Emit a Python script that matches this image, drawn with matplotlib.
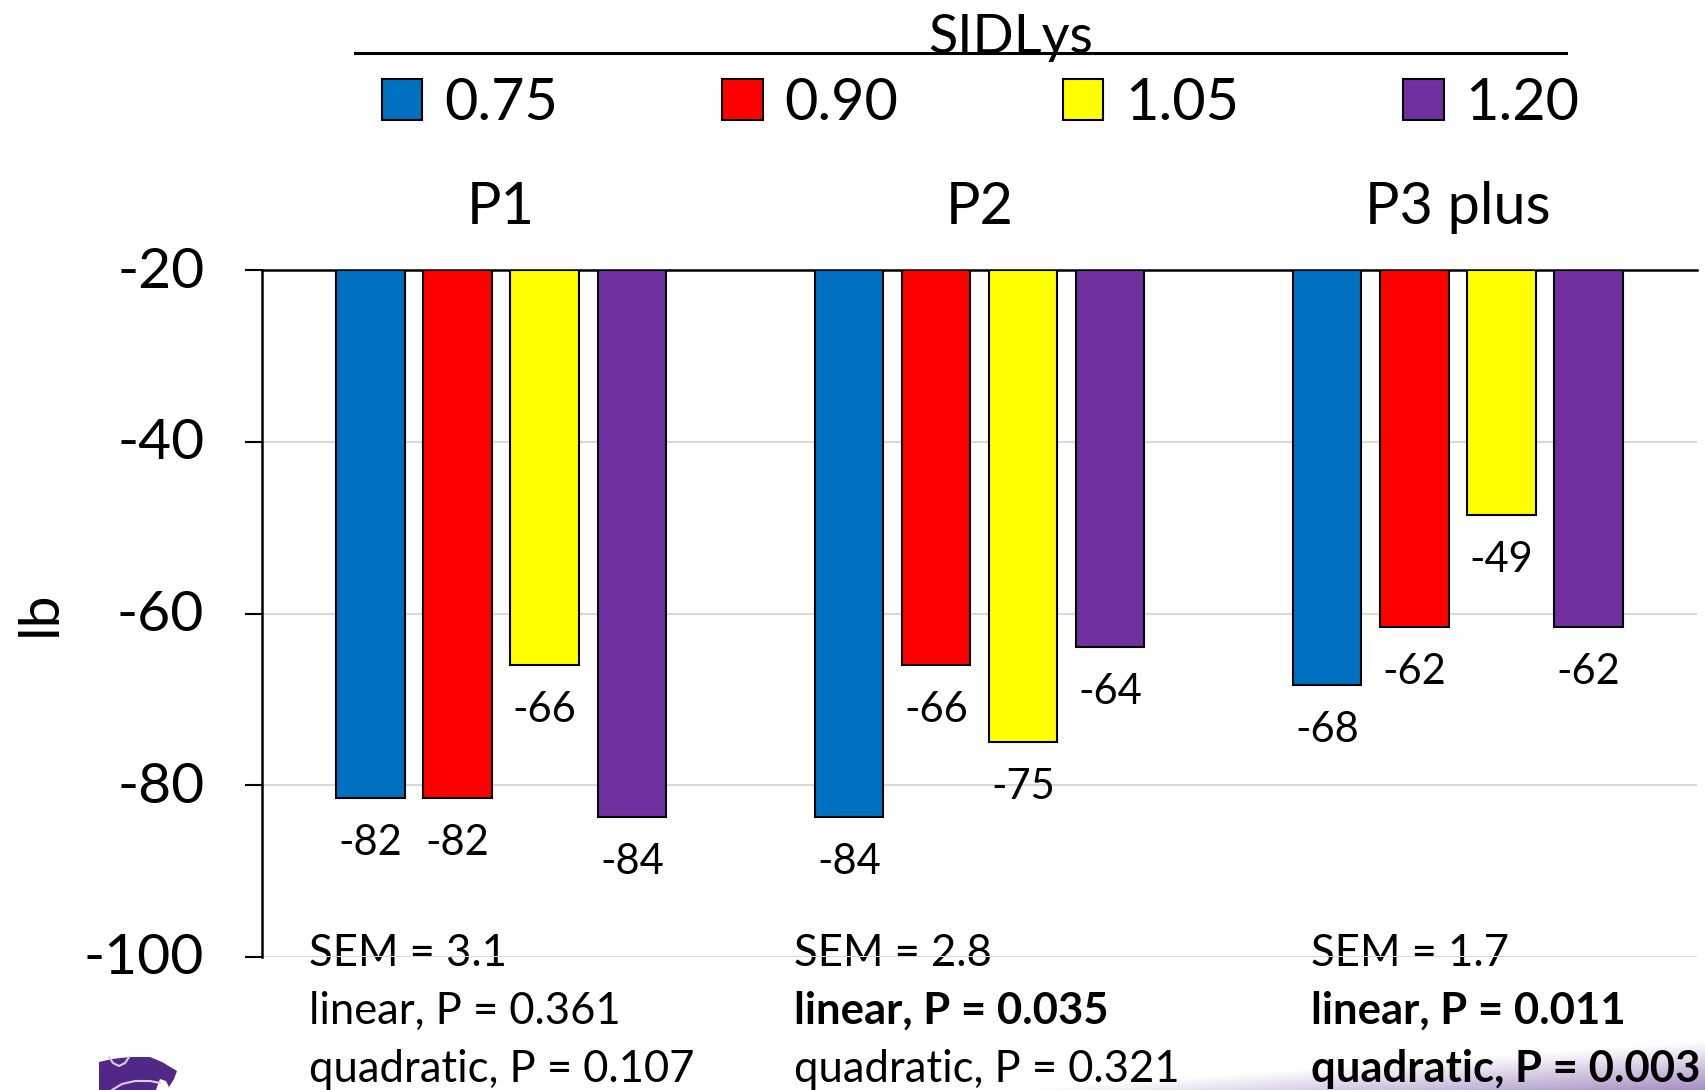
import numpy as np
import matplotlib
matplotlib.use("Agg")
import matplotlib.pyplot as plt
from matplotlib.patches import Patch, Polygon
from matplotlib.transforms import ScaledTranslation

# Data
groups = ["P1", "P2", "P3 plus"]
levels = ["0.75", "0.90", "1.05", "1.20"]
colors = ["#0070C0", "#FF0000", "#FFFF00", "#7030A0"]
p1_vals = [-81.5, -81.5, -66.0, -83.7]
p2_vals = [-83.7, -66.0, -75.0, -63.9]
p3_vals = [-68.3, -61.6, -48.5, -61.6]
p1_labels = ["-82", "-82", "-66", "-84"]
p2_labels = ["-84", "-66", "-75", "-64"]
p3_labels = ["-68", "-62", "-49", "-62"]
y_ticks = [-20, -40, -60, -80, -100]
sem_text = ["SEM = 3.1", "SEM = 2.8", "SEM = 1.7"]
linear_text = ["linear, P = 0.361", "linear, P = 0.035", "linear, P = 0.011"]
quad_text = ["quadratic, P = 0.107", "quadratic, P = 0.321", "quadratic, P = 0.003"]
linear_bold = [False, True, True]
quad_bold = [False, False, True]

W, H = 1706, 1090
plt.rcParams["font.family"] = ["Lato", "DejaVu Sans"]
plt.rcParams["axes.unicode_minus"] = False
fig = plt.figure(figsize=(W / 100, H / 100), dpi=100)


def fx(px):
    return px / W


def fy(py):
    return 1 - py / H


# purple fade along the bottom right corner
bg = fig.add_axes([0, 0, 1, 1], zorder=0)
bg.set_axis_off()
xx, yy = np.meshgrid(np.arange(W), np.arange(H))
top_edge = H - 50 * np.clip((xx - 1000) / 706, 0, 1)
fade = np.clip((yy - top_edge) / 50, 0, 1) * 0.65
img = np.ones((H, W, 4))
img[..., 0] = 0.44
img[..., 1] = 0.30
img[..., 2] = 0.62
img[..., 3] = fade
bg.imshow(img, extent=[0, 1, 0, 1], origin="upper", aspect="auto", interpolation="bilinear")
bg.set_xlim(0, 1)
bg.set_ylim(0, 1)

ax = fig.add_axes([fx(262), fy(957), fx(1697 - 262), (957 - 270) / H], zorder=1)
ax.patch.set_alpha(0)
ax.set_xlim(-0.5, 2.5)
ax.set_ylim(-100, -20)

x = np.arange(len(groups))
spacing = 0.182
bar_w = 0.143
all_vals = [p1_vals, p2_vals, p3_vals]
all_labels = [p1_labels, p2_labels, p3_labels]
for i, col in enumerate(colors):
    vals = [v[i] for v in all_vals]
    pos = x + (i - 1.5) * spacing
    ax.bar(pos, np.array(vals) + 20, bar_w, bottom=-20, color=col,
           edgecolor="black", linewidth=1.5, zorder=3)
    for px, v, g in zip(pos, vals, all_labels):
        ax.annotate(g[i], (px, v), xytext=(0, -45), textcoords="offset pixels",
                    ha="center", va="center", fontsize=30, zorder=4)

ax.set_yticks(y_ticks)
ax.set_xticks([])
ax.tick_params(axis="y", labelsize=41, length=12.5, width=1.5, pad=29)
for lab in ax.get_yticklabels():
    lab.set_transform(lab.get_transform() + ScaledTranslation(0, 3 / 100, fig.dpi_scale_trans))
ax.grid(axis="y", color="#D9D9D9", linewidth=1.5, zorder=1)
ax.set_axisbelow(True)
for s in ["right", "bottom"]:
    ax.spines[s].set_visible(False)
ax.spines["left"].set_linewidth(1.8)
ax.spines["top"].set_linewidth(1.8)
ax.set_ylabel("lb", fontsize=41)
ax.yaxis.set_label_coords(-0.137, 0.5)

# period names above the bars
for gx, g in zip(x, groups):
    ax.annotate(g, (gx, -20), xytext=(0, 63), textcoords="offset pixels",
                ha="center", va="center", fontsize=41.5)

# legend with its title rule
fig.add_artist(plt.Line2D([fx(355), fx(1566)], [fy(53), fy(53)], color="black", linewidth=2.2))
fig.text(fx(1011), fy(37), "SIDLys", ha="center", va="center", fontsize=39)
handles = [Patch(facecolor=c, edgecolor="black", linewidth=1.5) for c in colors]
fig.legend(handles, levels, ncol=4, loc="center left", bbox_to_anchor=(fx(382), fy(103)),
           frameon=False, fontsize=41.5, handlelength=0.7, handleheight=0.7,
           handletextpad=0.38, columnspacing=2.85, borderpad=0, borderaxespad=0)

# stats under each group, the grid line runs over the first row
stat_x = [309, 794, 1311]
for sx, sem, lin, qd, lb, qb in zip(stat_x, sem_text, linear_text, quad_text, linear_bold, quad_bold):
    fig.text(fx(sx), fy(954), sem, fontsize=31.4, va="center", zorder=0.5)
    fig.text(fx(sx), fy(1011), lin, fontsize=31.4, va="center", zorder=0.5,
             fontweight="bold" if lb else "normal")
    fig.text(fx(sx), fy(1069), qd, fontsize=31.4, va="center", zorder=0.5,
             fontweight="bold" if qb else "normal")

# wildcat logo, rough outline
logo_pts = [(99, 1090), (99, 1062), (112, 1059), (130, 1057), (150, 1057), (162, 1062),
            (177, 1071), (174, 1079), (169, 1087), (166, 1081), (160, 1079), (156, 1090)]
logo = Polygon([(fx(a), fy(b)) for a, b in logo_pts], closed=True, facecolor="#512888",
               edgecolor="none", transform=fig.transFigure)
fig.add_artist(logo)
arc_top_x = [109, 113, 119, 125, 129]
arc_top_y = [1057, 1063, 1066, 1063, 1057]
arc_low_x = [112, 122, 135, 150, 160]
arc_low_y = [1090, 1084, 1081, 1081, 1083]
for ax_pts, ay_pts in [(arc_top_x, arc_top_y), (arc_low_x, arc_low_y)]:
    fig.add_artist(plt.Line2D([fx(a) for a in ax_pts], [fy(b) for b in ay_pts],
                              color="#D9CFE8", linewidth=1.5))

fig.savefig("out.png", dpi=100)
